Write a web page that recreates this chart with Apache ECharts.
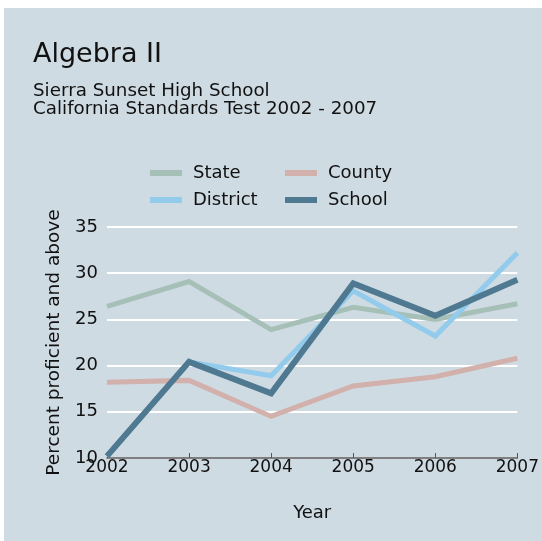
<!DOCTYPE html>
<html>
<head>
<meta charset="utf-8">
<script src="https://cdn.jsdelivr.net/npm/echarts@6/dist/echarts.min.js"></script>
<style>
  html, body { margin: 0; padding: 0; background: #ffffff; }
  #chart { position: absolute; left: 4px; top: 8px; width: 538px; height: 533px; background: #cfdbe3; }
</style>
</head>
<body>
<div id="chart"></div>
<script>
// data
const years = ["2002", "2003", "2004", "2005", "2006", "2007"];
const stateVals = [26.4, 29.1, 23.9, 26.3, 25.0, 26.7];
const countyVals = [18.2, 18.4, 14.5, 17.8, 18.8, 20.8];
const districtVals = [10.2, 20.4, 18.9, 28.1, 23.2, 32.2];
const schoolVals = [10.2, 20.4, 17.0, 28.9, 25.4, 29.3];

const fontFamily = "DejaVu Sans, Liberation Sans, sans-serif";
const textColor = "#111111";

const chart = echarts.init(document.getElementById("chart"), null, { renderer: "canvas" });

function lineSeries(name, data, color, width) {
    return {
        name: name,
        type: "line",
        data: data,
        symbol: "none",
        animation: false,
        lineStyle: { color: color, width: width, cap: "butt", join: "miter" },
        itemStyle: { color: color },
    };
}

chart.setOption({
    animation: false,
    textStyle: { fontFamily: fontFamily },
    title: {
        text: "Algebra II",
        subtext: "Sierra Sunset High School\nCalifornia Standards Test 2002 - 2007",
        left: 24,
        top: 28,
        itemGap: 14,
        textStyle: { fontSize: 27, fontWeight: "normal", color: textColor, fontFamily: fontFamily },
        subtextStyle: { fontSize: 18.3, color: textColor, lineHeight: 18, fontFamily: fontFamily },
    },
    legend: [
        {
            left: 141, top: 151, orient: "vertical",
            icon: "rect", itemWidth: 32, itemHeight: 6, itemGap: 9,
            data: ["State", "District"],
            textStyle: { fontSize: 18, color: textColor, padding: [0, 0, 0, 6] },
        },
        {
            left: 276, top: 151, orient: "vertical",
            icon: "rect", itemWidth: 32, itemHeight: 6, itemGap: 9,
            data: ["County", "School"],
            textStyle: { fontSize: 18, color: textColor, padding: [0, 0, 0, 6] },
        },
    ],
    grid: { left: 103, right: 21, top: 219, bottom: 83, containLabel: false },
    xAxis: {
        type: "category",
        data: years,
        boundaryGap: false,
        name: "Year",
        nameLocation: "middle",
        nameGap: 46,
        nameTextStyle: { fontSize: 18, color: textColor },
        axisLine: { lineStyle: { color: "#555555", width: 1.5 } },
        axisTick: { inside: true, length: 5, lineStyle: { color: "#555555" } },
        axisLabel: { fontSize: 17, color: textColor, margin: 1 },
        splitLine: { show: false },
    },
    yAxis: {
        type: "value",
        min: 10,
        max: 35,
        interval: 5,
        name: "Percent proficient and above",
        nameLocation: "middle",
        nameRotate: 90,
        nameGap: 43,
        nameTextStyle: { fontSize: 18.5, color: textColor },
        axisLine: { show: false },
        axisTick: { show: false },
        axisLabel: { fontSize: 18, color: textColor, margin: 9 },
        splitLine: { lineStyle: { color: "#ffffff", width: 2 } },
    },
    series: [
        lineSeries("State", stateVals, "#a7c0b7", 5),
        lineSeries("County", countyVals, "#d2b0ab", 5),
        lineSeries("District", districtVals, "#92cbec", 5),
        lineSeries("School", schoolVals, "#4f7891", 6),
    ],
});

window.addEventListener("resize", () => {
    chart.resize();
});
</script>
</body>
</html>
